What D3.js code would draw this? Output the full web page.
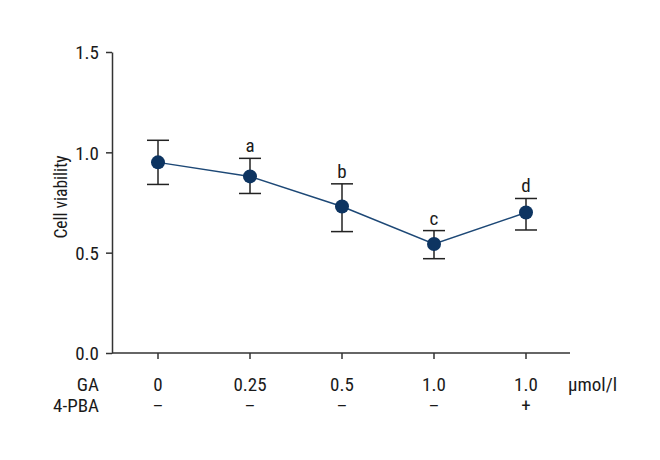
<!DOCTYPE html>
<html lang="en">
<head>
  <meta charset="UTF-8">
  <title>Cell viability</title>
  <script src="https://d3js.org/d3.v7.min.js"></script>
  <style>
    body { margin: 0; background: #fff; }
    text { font-family: "Roboto Condensed", "DejaVu Sans Condensed", sans-serif; fill: #1a1a1a; }
  </style>
</head>
<body>
  <svg width="660" height="460"></svg>
  <script>
    // data
    const gaDoses = ["0", "0.25", "0.5", "1.0", "1.0"];
    const pbaMarks = ["\u2013", "\u2013", "\u2013", "\u2013", "+"];
    const viability = [0.95, 0.88, 0.73, 0.543, 0.70];
    const errUpper = [1.06, 0.97, 0.843, 0.61, 0.77];
    const errLower = [0.84, 0.795, 0.605, 0.47, 0.613];
    const sigLetters = ["", "a", "b", "c", "d"];
    const yTicks = [0, 0.5, 1.0, 1.5];

    const svg = d3.select("svg");
    const plotLeft = 112, plotRight = 570, plotTop = 52, plotBottom = 353;
    const fontSize = 19;

    const y = d3.scaleLinear().domain([0, 1.5]).range([plotBottom, plotTop]);
    const x = d3.scalePoint().domain(d3.range(gaDoses.length)).range([158, 526]);

    const axisColor = "#333";

    // y axis
    const yAxis = svg.append("g")
      .attr("transform", `translate(${plotLeft},0)`)
      .call(d3.axisLeft(y).tickValues(yTicks).tickFormat(d3.format(".1f")).tickSize(6).tickSizeOuter(0));
    yAxis.select(".domain").attr("stroke", axisColor).attr("stroke-width", 1.5);
    yAxis.selectAll(".tick line").attr("stroke", axisColor).attr("stroke-width", 1.5);
    yAxis.selectAll(".tick text").attr("font-size", fontSize).attr("x", -13).attr("dy", "0.36em").attr("fill", "#1a1a1a")
      .style("font-family", "'Roboto Condensed', 'DejaVu Sans Condensed', sans-serif");

    // x axis
    const xAxis = svg.append("g")
      .attr("transform", `translate(0,${plotBottom})`);
    xAxis.append("line")
      .attr("x1", plotLeft).attr("x2", plotRight)
      .attr("stroke", axisColor).attr("stroke-width", 1.5);
    xAxis.selectAll("line.tick")
      .data(gaDoses)
      .join("line")
      .attr("class", "tick")
      .attr("x1", (d, i) => x(i)).attr("x2", (d, i) => x(i))
      .attr("y1", 0).attr("y2", 6)
      .attr("stroke", axisColor).attr("stroke-width", 1.5);

    // y label
    svg.append("text")
      .attr("transform", `translate(67,197) rotate(-90)`)
      .attr("text-anchor", "middle")
      .attr("font-size", 17.5)
      .text("Cell viability");

    // row labels under axis
    svg.append("text").attr("x", 99).attr("y", 391).attr("text-anchor", "end").attr("font-size", fontSize).text("GA");
    svg.append("text").attr("x", 99).attr("y", 412).attr("text-anchor", "end").attr("font-size", fontSize).text("4-PBA");
    svg.append("text").attr("x", 568).attr("y", 391).attr("font-size", fontSize).text("\u03bcmol/l");

    svg.append("g").selectAll("text")
      .data(gaDoses)
      .join("text")
      .attr("x", (d, i) => x(i)).attr("y", 391)
      .attr("text-anchor", "middle").attr("font-size", fontSize)
      .text(d => d);

    svg.append("g").selectAll("text")
      .data(pbaMarks)
      .join("text")
      .attr("x", (d, i) => x(i)).attr("y", 412)
      .attr("text-anchor", "middle").attr("font-size", fontSize)
      .text(d => d);

    // connecting line
    const navy = "#0d3461";
    svg.append("path")
      .datum(viability)
      .attr("fill", "none")
      .attr("stroke", "#1d4876")
      .attr("stroke-width", 1.5)
      .attr("d", d3.line().x((d, i) => x(i)).y(d => y(d)));

    // error bars
    const capHalf = 11;
    const eb = svg.append("g").attr("stroke", "#222").attr("stroke-width", 1.5);
    viability.forEach((v, i) => {
      const cx = x(i);
      eb.append("line").attr("x1", cx).attr("x2", cx).attr("y1", y(errUpper[i])).attr("y2", y(errLower[i]));
      eb.append("line").attr("x1", cx - capHalf).attr("x2", cx + capHalf).attr("y1", y(errUpper[i])).attr("y2", y(errUpper[i]));
      eb.append("line").attr("x1", cx - capHalf).attr("x2", cx + capHalf).attr("y1", y(errLower[i])).attr("y2", y(errLower[i]));
    });

    // points
    svg.append("g").selectAll("circle")
      .data(viability)
      .join("circle")
      .attr("cx", (d, i) => x(i))
      .attr("cy", d => y(d))
      .attr("r", 7)
      .attr("fill", navy);

    // significance letters
    svg.append("g").selectAll("text")
      .data(sigLetters)
      .join("text")
      .attr("x", (d, i) => x(i))
      .attr("y", (d, i) => y(errUpper[i]) - 6)
      .attr("text-anchor", "middle")
      .attr("font-size", fontSize)
      .text(d => d);
  </script>
</body>
</html>
